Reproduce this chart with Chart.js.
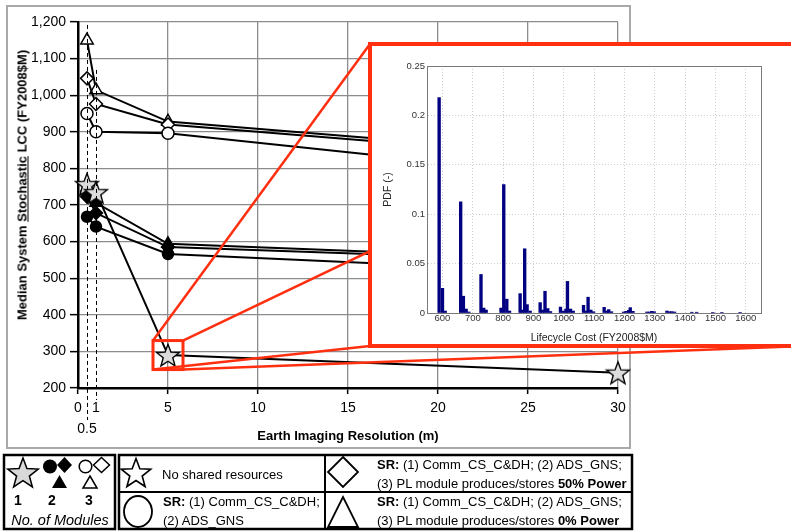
<!DOCTYPE html>
<html><head><meta charset="utf-8">
<script src="https://cdn.jsdelivr.net/npm/chart.js@4.4.1/dist/chart.umd.min.js"></script>
<style>
html,body{margin:0;padding:0;background:#fff;}
body{width:791px;height:531px;position:relative;overflow:hidden;font-family:'Liberation Sans',Arial,sans-serif;}
#frame{position:absolute;left:6px;top:5px;width:621px;height:440px;border:2px solid #a9a9a9;}
#main{position:absolute;left:0;top:0;z-index:1;}
#ytitle{position:absolute;left:22px;top:185px;transform:translate(-50%,-50%) rotate(-90deg);white-space:nowrap;font:bold 13px 'Liberation Sans',Arial,sans-serif;color:#000;z-index:2;}
#inset{position:absolute;left:368px;top:42px;width:437px;height:306px;box-sizing:border-box;border:4px solid #ff2f0f;background:#fff;z-index:3;}
#insetCanvas{position:absolute;left:0;top:0;}
#legend{position:absolute;left:0;top:0;z-index:4;}
</style></head><body>
<div id="frame"></div>
<canvas id="main" width="791" height="452"></canvas>
<div id="ytitle">Median System <u>Stochastic</u> LCC (FY2008$M)</div>
<div id="inset"><canvas id="insetCanvas" width="429" height="298"></canvas></div>
<svg id="legend" width="791" height="531" font-family="Liberation Sans, Arial, sans-serif">
  <rect x="4" y="455" width="111" height="74" fill="none" stroke="#000" stroke-width="2.5"/>
  <polygon id="lgStarBig" fill="#d9d9d9" stroke="#000" stroke-width="1.5"/>
  <circle cx="50" cy="466.5" r="7" fill="#000"/>
  <polygon points="64.5,457 72,465 64.5,473 57,465" fill="#000"/>
  <circle cx="85.5" cy="466.5" r="6.3" fill="#fff" stroke="#000" stroke-width="1.5"/>
  <polygon points="101.5,457.5 109.5,465 101.5,472.5 93.5,465" fill="#fff" stroke="#000" stroke-width="1.5"/>
  <polygon points="59.5,475 67,488 52,488" fill="#000"/>
  <polygon points="90,476 97,488 83,488" fill="#fff" stroke="#000" stroke-width="1.5"/>
  <text x="18" y="505" font-size="14" font-weight="bold" text-anchor="middle">1</text>
  <text x="52" y="505" font-size="14" font-weight="bold" text-anchor="middle">2</text>
  <text x="89" y="505" font-size="14" font-weight="bold" text-anchor="middle">3</text>
  <text x="60" y="525" font-size="14.5" font-style="italic" text-anchor="middle">No. of Modules</text>

  <rect x="119" y="455" width="513" height="74" fill="none" stroke="#000" stroke-width="2.5"/>
  <line x1="325" y1="455" x2="325" y2="529" stroke="#000" stroke-width="2"/>
  <line x1="119" y1="492" x2="632" y2="492" stroke="#000" stroke-width="2"/>
  <polygon id="lgStarOpen" fill="#fff" stroke="#000" stroke-width="1.6"/>
  <text x="162" y="479" font-size="13">No shared resources</text>
  <polygon points="343,457 358,472 343,487 328,472" fill="#fff" stroke="#000" stroke-width="1.8"/>
  <text x="377" y="469" font-size="13"><tspan font-weight="bold">SR:</tspan> (1) Comm_CS_C&amp;DH; (2) ADS_GNS;</text>
  <text x="377" y="488" font-size="13">(3) PL module produces/stores <tspan font-weight="bold">50% Power</tspan></text>
  <ellipse cx="138" cy="511.5" rx="14" ry="15.5" fill="#fff" stroke="#000" stroke-width="1.8"/>
  <text x="163" y="506" font-size="13"><tspan font-weight="bold">SR:</tspan> (1) Comm_CS_C&amp;DH;</text>
  <text x="163" y="525" font-size="13">(2) ADS_GNS</text>
  <polygon points="343,497 358,527 328,527" fill="#fff" stroke="#000" stroke-width="1.8"/>
  <text x="377" y="506" font-size="13"><tspan font-weight="bold">SR:</tspan> (1) Comm_CS_C&amp;DH; (2) ADS_GNS;</text>
  <text x="377" y="525" font-size="13">(3) PL module produces/stores <tspan font-weight="bold">0% Power</tspan></text>
</svg>
<script>
// ---------- data: main chart ----------
const xRes      = [0.5, 1, 5, 30];              // Earth imaging resolution (m)
const starLCC   = [757, 735, 290, 242];         // 1 module, no shared resources
const circ2LCC  = [668, 641, 566, 511];         // 2 modules, SR (1)(2)
const diam2LCC  = [723, 678, 585, 542];         // 2 modules, SR + 50% power
const tri2LCC   = [748, 706, 594, 546];         // 2 modules, SR + 0% power
const circ3LCC  = [950, 900, 896, 766];         // 3 modules, SR (1)(2)
const diam3LCC  = [1046, 976, 920, 820];        // 3 modules, SR + 50% power
const tri3LCC   = [1150, 1014, 928, 828];       // 3 modules, SR + 0% power
const xTickVals = [0, 0.5, 1, 5, 10, 15, 20, 25, 30];

// ---------- data: inset histogram ----------
const lccBins = [589,600,609,660,669,678,687,727,736,744,793,802,812,821,856,863,871,879,889,
  922,930,938,947,956,989,998,1007,1012,1022,1031,1065,1073,1080,1089,1098,1133,1142,1148,1157,
  1197,1205,1214,1219,1228,1274,1282,1290,1298,1340,1348,1356,1365,1422,1438,1491,1521,1581];
const pdfVals = [0.218,0.025,0.002,0.1125,0.017,0.004,0.001,0.039,0.005,0.003,0.005,0.130,0.014,0.002,0.0196,0.003,0.065,0.0085,0.002,
  0.0105,0.003,0.022,0.0045,0.0015,0.006,0.002,0.004,0.032,0.004,0.002,0.0078,0.002,0.016,0.003,0.0013,0.0057,0.002,0.0034,0.0013,
  0.001,0.0017,0.0027,0.0054,0.0017,0.001,0.001,0.0017,0.0013,0.002,0.0013,0.0014,0.001,0.0008,0.0008,0.0006,0.0006,0.0006];
const insetXTicks = [600,700,800,900,1000,1100,1200,1300,1400,1500,1600];
const insetYTicks = [0,0.05,0.1,0.15,0.2,0.25];

const FONT = "'Liberation Sans', Arial, sans-serif";
Chart.defaults.font.family = FONT;
const RED = '#ff2f0f';

function starPoints(cx, cy, R, r) {
  const pts = [];
  for (let i = 0; i < 10; i++) {
    const a = -Math.PI / 2 + i * Math.PI / 5;
    const rad = i % 2 ? r : R;
    pts.push([cx + rad * Math.cos(a), cy + rad * Math.sin(a)]);
  }
  return pts;
}
function makeStar(R, fill) {
  const c = document.createElement('canvas');
  const s = Math.ceil(R * 2 + 4);
  c.width = s; c.height = s;
  const g = c.getContext('2d');
  const pts = starPoints(s / 2, s / 2 + R * 0.1, R, R * 0.42);
  g.beginPath();
  pts.forEach((p, i) => i ? g.lineTo(p[0], p[1]) : g.moveTo(p[0], p[1]));
  g.closePath();
  g.fillStyle = fill; g.fill();
  g.lineWidth = 1.4; g.strokeStyle = '#000'; g.stroke();
  return c;
}
// legend stars
document.getElementById('lgStarBig').setAttribute('points',
  starPoints(23, 474, 16, 6.7).map(p => p.join(',')).join(' '));
document.getElementById('lgStarOpen').setAttribute('points',
  starPoints(136, 474, 15.5, 6.5).map(p => p.join(',')).join(' '));

const starImg = makeStar(12, '#dcdcdc');

function series(vals, style, radius, fill) {
  return {
    data: xRes.map((x, i) => ({x: x, y: vals[i]})),
    showLine: true, borderColor: '#000', borderWidth: 2, tension: 0,
    pointStyle: style, pointRadius: radius, pointBackgroundColor: fill,
    pointBorderColor: '#000', pointBorderWidth: 1.5, clip: false
  };
}

const calloutPlugin = {
  id: 'callout',
  afterDatasetsDraw(chart) {
    const {ctx, scales: {x, y}} = chart;
    const axisY = y.getPixelForValue(200);
    const dashes = [[0.5, 1192, 32], [1, 1069, 12]];
    ctx.save();
    ctx.strokeStyle = '#000'; ctx.lineWidth = 1; ctx.setLineDash([4, 3]);
    dashes.forEach(d => {
      const px = Math.round(x.getPixelForValue(d[0])) + 0.5;
      ctx.beginPath(); ctx.moveTo(px, y.getPixelForValue(d[1])); ctx.lineTo(px, axisY + d[2]); ctx.stroke();
    });
    ctx.restore();
  },
  afterDraw(chart) {
    const {ctx, scales: {x, y}} = chart;
    const cx = x.getPixelForValue(xRes[2]), cy = y.getPixelForValue(starLCC[2]);
    const L = cx - 15, R = cx + 15, T = cy - 14.5, B = cy + 14.5;
    const ins = document.getElementById('inset');
    const iL = ins.offsetLeft + 2, iT = ins.offsetTop + 2;
    const iR = ins.offsetLeft + ins.offsetWidth - 2, iB = ins.offsetTop + ins.offsetHeight - 2;
    ctx.save();
    ctx.strokeStyle = RED; ctx.lineWidth = 2.5;
    [[L, T, iL, iT], [R, T, iR, iT], [L, B, iL, iB], [R, B, iR, iB]].forEach(s => {
      ctx.beginPath(); ctx.moveTo(s[0], s[1]); ctx.lineTo(s[2], s[3]); ctx.stroke();
    });
    ctx.lineWidth = 3;
    ctx.strokeRect(L, T, R - L, B - T);
    ctx.restore();
  }
};

new Chart(document.getElementById('main'), {
  type: 'scatter',
  data: {
    datasets: [
      series(starLCC, starImg, 12, '#dcdcdc'),
      series(circ2LCC, 'circle', 5.5, '#000'),
      series(diam2LCC, 'rectRot', 6.5, '#000'),
      series(tri2LCC, 'triangle', 7, '#000'),
      series(circ3LCC, 'circle', 6, '#fff'),
      series(diam3LCC, 'rectRot', 6.5, '#fff'),
      series(tri3LCC, 'triangle', 7.2, '#fff')
    ]
  },
  options: {
    responsive: false, animation: false, devicePixelRatio: 1,
    layout: {padding: {left: 18, right: 173, top: 22, bottom: 8}},
    plugins: {legend: {display: false}, tooltip: {enabled: false}},
    scales: {
      x: {
        type: 'linear', min: 0, max: 30,
        afterBuildTicks: s => { s.ticks = xTickVals.map(v => ({value: v})); },
        afterFit: s => { s.height = 56; },
        ticks: {
          autoSkip: false, maxRotation: 0, minRotation: 0, padding: 4, color: '#000',
          font: {size: 14, lineHeight: 1.5},
          callback: v => v === 0.5 ? ['', '0.5'] : String(v)
        },
        grid: {
          color: c => (c.tick && c.tick.value >= 5) ? '#8c8c8c' : 'rgba(0,0,0,0)',
          lineWidth: 1.3, tickLength: 6, tickWidth: 1.5,
          tickColor: c => (c.tick && (c.tick.value === 0.5 || c.tick.value === 1)) ? 'rgba(0,0,0,0)' : '#000'
        },
        border: {color: '#000', width: 2.5},
        title: {display: true, text: 'Earth Imaging Resolution (m)', color: '#000',
                font: {size: 13, weight: 'bold'}, padding: 0}
      },
      y: {
        min: 200, max: 1200,
        afterFit: s => { s.width = 60; },
        ticks: {stepSize: 100, padding: 4, color: '#000', font: {size: 14},
                callback: v => v.toLocaleString('en-US')},
        grid: {color: '#8c8c8c', lineWidth: 1.3, tickLength: 8, tickColor: '#000', tickWidth: 1.5},
        border: {color: '#000', width: 2.5}
      }
    }
  },
  plugins: [calloutPlugin]
});

const boxPlugin = {
  id: 'axbox',
  afterDatasetsDraw(chart) {
    const a = chart.chartArea, ctx = chart.ctx;
    ctx.save(); ctx.strokeStyle = '#7a7a7a'; ctx.lineWidth = 1;
    ctx.strokeRect(Math.round(a.left) + 0.5, Math.round(a.top) + 0.5,
                   Math.round(a.right - a.left), Math.round(a.bottom - a.top));
    ctx.restore();
  }
};

new Chart(document.getElementById('insetCanvas'), {
  type: 'bar',
  data: {datasets: [{
    data: lccBins.map((x, i) => ({x: x, y: pdfVals[i]})),
    backgroundColor: '#000080', borderWidth: 0, barThickness: 2.7, grouped: false
  }]},
  options: {
    responsive: false, animation: false, devicePixelRatio: 1,
    layout: {padding: {left: 10, right: 40, top: 20, bottom: 0}},
    plugins: {legend: {display: false}, tooltip: {enabled: false}},
    scales: {
      x: {
        type: 'linear', min: 549, max: 1650, offset: false,
        afterBuildTicks: s => { s.ticks = insetXTicks.map(v => ({value: v})); },
        afterFit: s => { s.height = 31; },
        ticks: {autoSkip: false, maxRotation: 0, padding: 0, color: '#333', font: {size: 9.5},
                callback: v => String(v)},
        grid: {color: '#cfcfcf', drawTicks: false, offset: false},
        border: {color: '#7a7a7a', width: 1, dash: [1, 2]},
        title: {display: true, text: 'Lifecycle Cost (FY2008$M)', color: '#222', font: {size: 10.5}, padding: 0}
      },
      y: {
        min: 0, max: 0.25,
        afterBuildTicks: s => { s.ticks = insetYTicks.map(v => ({value: v})); },
        afterFit: s => { s.width = 45; },
        ticks: {padding: 2, color: '#333', font: {size: 9.5}, callback: v => String(v)},
        grid: {color: '#cfcfcf', drawTicks: false},
        border: {color: '#7a7a7a', width: 1, dash: [1, 2]},
        title: {display: true, text: 'PDF (-)', color: '#222', font: {size: 10.5}, padding: 0}
      }
    }
  },
  plugins: [boxPlugin]
});
</script>
</body></html>
